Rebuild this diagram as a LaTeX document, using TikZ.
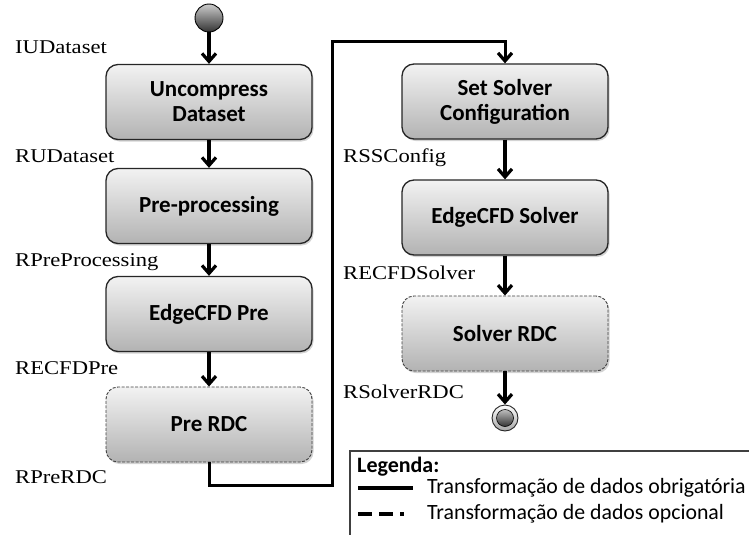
\documentclass[tikz,border=0pt]{standalone}
\usepackage{fontspec}
\setmainfont{Liberation Serif}[FakeStretch=1.16]
\newfontfamily\calibri{Carlito}
\usetikzlibrary{arrows.meta,shadows,positioning}
\begin{document}
\begin{tikzpicture}[x=1pt,y=-1pt,
  proc/.style={rectangle, rounded corners=12pt, minimum width=206pt, minimum height=75pt,
    draw=black!85, line width=1.3pt, top color=black!5, bottom color=black!30,
    drop shadow={opacity=0.35, shadow xshift=1.5pt, shadow yshift=-2pt},
    font=\calibri\bfseries\fontsize{23}{25}\selectfont, align=center, text=black},
  optproc/.style={proc, draw=black!75, line width=0.9pt, dash pattern=on 3pt off 1.5pt},
  lbl/.style={anchor=west, inner sep=0pt, font=\fontsize{19.5}{22}\selectfont},
  flow/.style={line width=3.4pt, -{Straight Barb[length=8pt,width=14pt,line width=3.2pt]}},
  legtext/.style={anchor=west, inner sep=0pt, font=\calibri\fontsize{21.8}{24}\selectfont}
]
\useasboundingbox (0,0) rectangle (749,535);

% start node
\node (start) [circle, minimum size=28pt, inner sep=0pt, draw=black, line width=0.9pt,
  top color=black!20, bottom color=black!80] at (209,18) {};

% left column
\node (unc)  [proc] at (209,102) {Uncompress\\Dataset};
\node (pre)  [proc] at (209,206) {Pre-processing};
\node (epre) [proc] at (209,314) {EdgeCFD Pre};
\node (prdc) [optproc] at (209,424.5) {Pre RDC};

% right column
\node (ssc)  [proc] at (505,101.5) {Set Solver\\Configuration};
\node (esol) [proc] at (505,217.5) {EdgeCFD Solver};
\node (srdc) [optproc] at (505,333.5) {Solver RDC};

% end node
\node (endo) [circle, minimum size=26pt, inner sep=0pt, draw=black!85, line width=0.9pt,
  top color=white, bottom color=black!35] at (505,418) {};
\node (endi) [circle, minimum size=17pt, inner sep=0pt, draw=black, line width=0.6pt,
  top color=black!25, bottom color=black!80] at (505,418) {};

% labels
\node (l1) [lbl] at (15,47) {IUDataset};
\node (l2) [lbl] at (15,156) {RUDataset};
\node (l3) [lbl] at (15,262) {RPreProcessing};
\node (l4) [lbl] at (15,368) {RECFDPre};
\node (l5) [lbl] at (15,477) {RPreRDC};
\node (l6) [lbl] at (343,158) {RSSConfig};
\node (l7) [lbl] at (343,273) {RECFDSolver};
\node (l8) [lbl] at (343,392) {RSolverRDC};

% connectors
\draw[flow] (start) -- (unc);
\draw[flow] (unc) -- (pre);
\draw[flow] (pre) -- (epre);
\draw[flow] (epre) -- (prdc);
\coordinate (c1) at (209,485);
\coordinate (c2) at (332,485);
\coordinate (c3) at (332,42);
\coordinate (c4) at (505,42);
\draw[flow, line width=3pt, line join=miter]
  (prdc.south) -- (c1) -- (c2) -- (c3) -- (c4) -- (ssc.north);
\draw[flow] (ssc) -- (esol);
\draw[flow] (esol) -- (srdc);
\draw[flow] (srdc) -- (endo);

% legend
\node (legbox) [draw=black!75, line width=1.5pt, rectangle, minimum width=420pt, minimum height=100pt,
  anchor=north west, inner sep=0pt] at (349,450) {};
\node (legt) [legtext, font=\calibri\bfseries\fontsize{22}{24}\selectfont] at (357,467) {Legenda:};
\coordinate (s1) at (358,488);
\coordinate (s2) at (413,488);
\draw[line width=3.2pt] (s1) -- (s2);
\node (leg1) [legtext] at (427,488) {Transformação de dados obrigatória};
\coordinate (d1) at (358,514);
\coordinate (d2) at (404,514);
\draw[line width=3.2pt, dash pattern=on 14pt off 7pt] (d1) -- (d2);
\node (leg2) [legtext] at (427,514) {Transformação de dados opcional};
\end{tikzpicture}
\end{document}
